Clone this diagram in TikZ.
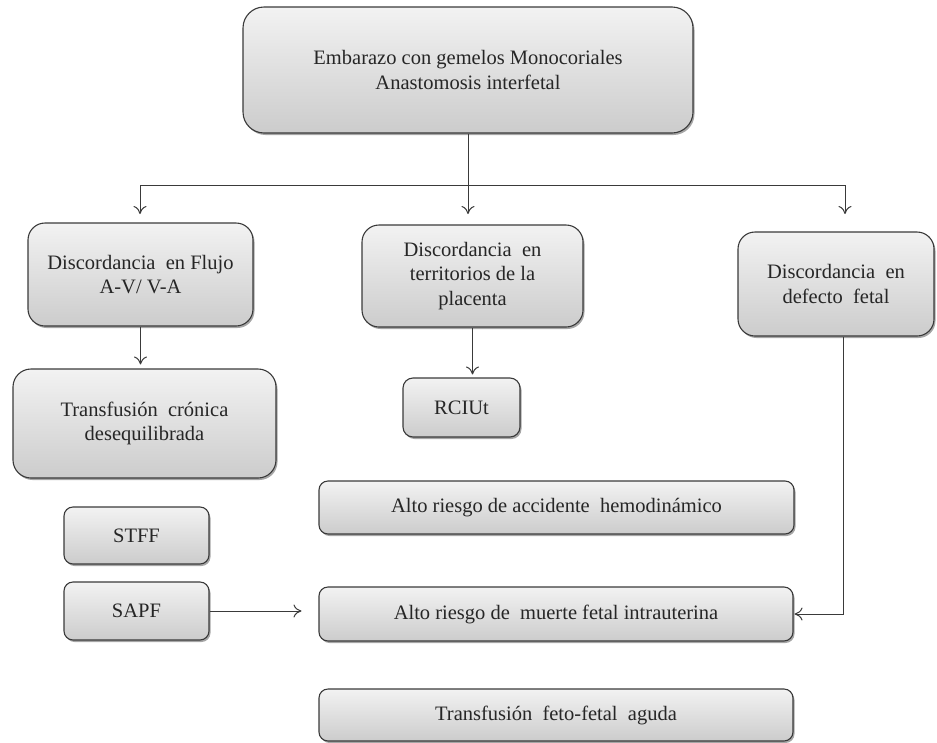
\documentclass[tikz,border=0pt]{standalone}
\usepackage{fontspec}
\setmainfont{Liberation Serif}
\usetikzlibrary{shadows,arrows.meta}
\definecolor{edge}{HTML}{3A3A3A}
\definecolor{txt}{HTML}{262626}
\tikzset{
  box/.style={draw=edge, line width=1.1pt, top color=gray!10, bottom color=gray!40,
    align=center, text=txt, inner sep=2pt,
    font=\rmfamily\fontsize{20.5}{24.5}\selectfont,
    drop shadow={shadow xshift=1.5pt, shadow yshift=-2pt, opacity=0.35, fill=black}},
  conn/.style={draw=edge, line width=1pt},
  arr/.style={conn, -{To[length=8pt,width=13pt]}}
}
\begin{document}
\begin{tikzpicture}[x=1pt,y=-1pt]
\useasboundingbox (0,0) rectangle (937,742);
\node[box, minimum width=450, minimum height=126, rounded corners=21] (top) at (468,70)
  {Embarazo con gemelos Monocoriales\\Anastomosis interfetal};
\node[box, minimum width=225, minimum height=103, rounded corners=17] (flujo) at (140.5,274.5)
  {Discordancia\ \ en Flujo\\A-V/ V-A};
\node[box, minimum width=221, minimum height=102, rounded corners=17] (terr) at (472.5,276)
  {Discordancia\ \ en\\territorios de la\\placenta};
\node[box, minimum width=196, minimum height=104, rounded corners=17] (defect) at (836,284)
  {Discordancia\ \ en\\defecto\ \ fetal};
\node[box, minimum width=263, minimum height=109, rounded corners=18] (transf) at (144.5,423.5)
  {Transfusión\ \ crónica\\desequilibrada};
\node[box, minimum width=117, minimum height=59, rounded corners=10] (rciut) at (461.5,407.5)
  {RCIUt};
\node[box, minimum width=475, minimum height=53, rounded corners=9] (hemo) at (556.5,507.5)
  {Alto riesgo de accidente\ \ hemodinámico};
\node[box, minimum width=474, minimum height=54, rounded corners=9] (muerte) at (556,614)
  {Alto riesgo de\ \ muerte fetal intrauterina};
\node[box, minimum width=474, minimum height=52, rounded corners=9] (aguda) at (556,715)
  {Transfusión\ \ feto-fetal\ \ aguda};
\node[box, minimum width=145, minimum height=57, rounded corners=9] (stff) at (136.5,535.5)
  {STFF};
\node[box, minimum width=145, minimum height=58, rounded corners=9] (sapf) at (136.5,611)
  {SAPF};

\coordinate (j) at (468,185);
\coordinate (jl) at (140,185);
\coordinate (jr) at (845,185);
\coordinate (ea) at (140,214);
\coordinate (eb) at (468,214);
\coordinate (ec) at (845,214);
\draw[conn] (top.south) -- (j);
\draw[conn] (jl) -- (jr);
\draw[arr] (jl) -- (ea);
\draw[arr] (j) -- (eb);
\draw[arr] (jr) -- (ec);
\draw[arr, shorten >=4pt] (flujo.south) -- (flujo.south |- transf.north);
\draw[arr, shorten >=3pt] (terr.south) -- (terr.south |- rciut.north);
\draw[arr, shorten >=1pt] ([xshift=7pt]defect.south) |- (muerte.east);
\draw[arr, shorten >=17pt] (sapf.east) -- (sapf.east -| muerte.west);
\end{tikzpicture}
\end{document}
